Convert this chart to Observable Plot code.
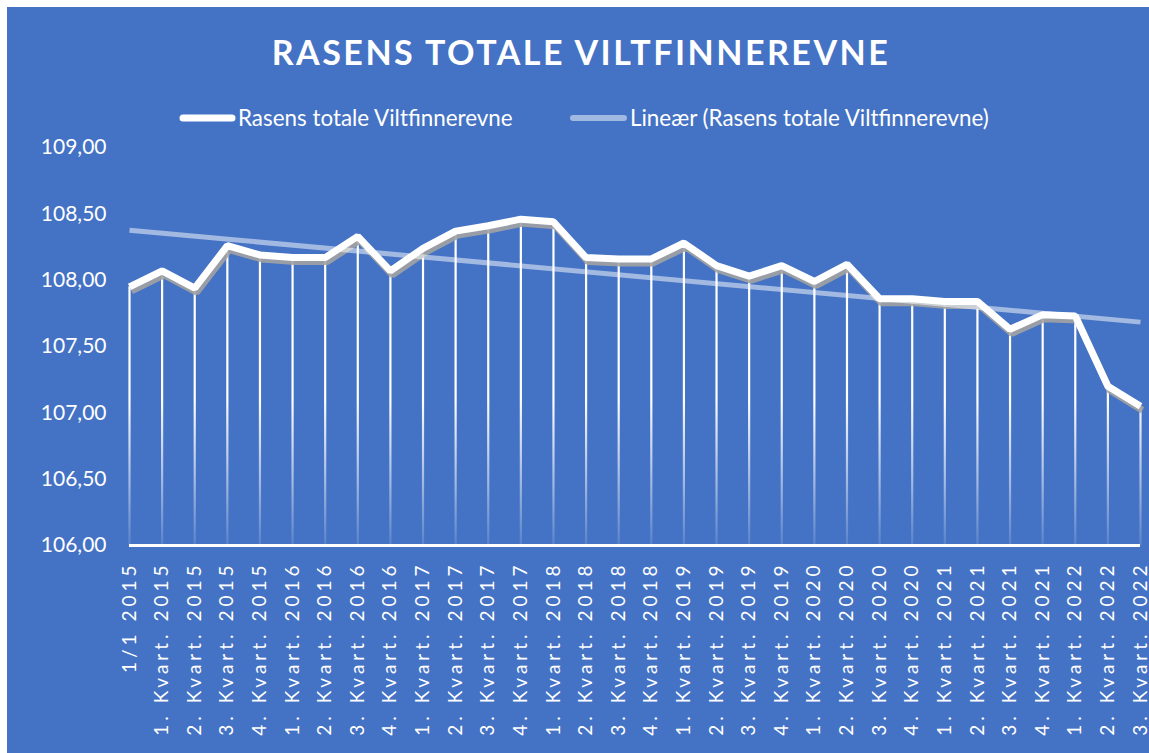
<!DOCTYPE html>
<html>
<head>
<meta charset="utf-8">
<script src="https://cdn.jsdelivr.net/npm/d3@7"></script>
<script src="https://cdn.jsdelivr.net/npm/@observablehq/plot@0.6"></script>
<style>
  html, body { margin: 0; padding: 0; background: #ffffff; }
  #bg { position: absolute; left: 7px; top: 7px; width: 1142px; height: 746px; background: #4472C4; }
  #header { position: absolute; left: 0; top: 0; }
  #chart { position: absolute; left: 0; top: 130px; }
</style>
</head>
<body>
<div id="bg"></div>
<svg id="header" width="1149" height="130"></svg>
<div id="chart"></div>
<script>
const titleText = "RASENS TOTALE VILTFINNEREVNE";
const seriesName = "Rasens totale Viltfinnerevne";
const trendName = "Lineær (Rasens totale Viltfinnerevne)";

const labels = [
  "1/1 2015",
  "1. Kvart. 2015", "2. Kvart. 2015", "3. Kvart. 2015", "4. Kvart. 2015",
  "1. Kvart. 2016", "2. Kvart. 2016", "3. Kvart. 2016", "4. Kvart. 2016",
  "1. Kvart. 2017", "2. Kvart. 2017", "3. Kvart. 2017", "4. Kvart. 2017",
  "1. Kvart. 2018", "2. Kvart. 2018", "3. Kvart. 2018", "4. Kvart. 2018",
  "1. Kvart. 2019", "2. Kvart. 2019", "3. Kvart. 2019", "4. Kvart. 2019",
  "1. Kvart. 2020", "2. Kvart. 2020", "3. Kvart. 2020", "4. Kvart. 2020",
  "1. Kvart. 2021", "2. Kvart. 2021", "3. Kvart. 2021", "4. Kvart. 2021",
  "1. Kvart. 2022", "2. Kvart. 2022", "3. Kvart. 2022"
];

const values = [
  107.95, 108.07, 107.94, 108.26, 108.19,
  108.17, 108.17, 108.33, 108.07,
  108.24, 108.37, 108.41, 108.46,
  108.44, 108.17, 108.16, 108.16,
  108.28, 108.11, 108.03, 108.11,
  107.99, 108.12, 107.86, 107.86,
  107.84, 107.84, 107.63, 107.74,
  107.73, 107.20, 107.05
];

const yTicks = [106, 106.5, 107, 107.5, 108, 108.5, 109];

const data = labels.map((label, i) => ({i, label, v: values[i]}));

// Header: title + legend
const header = d3.select("#header");
header.append("text")
  .attr("x", 581).attr("y", 65)
  .attr("text-anchor", "middle")
  .attr("fill", "white")
  .style("font-family", "Lato, 'Open Sans', sans-serif")
  .style("font-weight", "bold")
  .style("font-size", "34px")
  .style("letter-spacing", "2.5px")
  .text(titleText);

const leg = header.append("g");
leg.append("line").attr("x1", 183).attr("x2", 232).attr("y1", 118).attr("y2", 118)
  .attr("stroke", "white").attr("stroke-width", 7).attr("stroke-linecap", "round");
leg.append("text").attr("x", 238).attr("y", 126).attr("fill", "white")
  .style("font-family", "Lato, sans-serif").style("font-size", "22.4px").text(seriesName);
leg.append("line").attr("x1", 573).attr("x2", 624).attr("y1", 118).attr("y2", 118)
  .attr("stroke", "#A1B8E1").attr("stroke-width", 6).attr("stroke-linecap", "round");
leg.append("text").attr("x", 630).attr("y", 126).attr("fill", "white")
  .style("font-family", "Lato, sans-serif").style("font-size", "22.4px").text(trendName);

const chart = Plot.plot({
  width: 1149,
  height: 623,
  marginLeft: 129,
  marginRight: 9,
  marginTop: 17,
  marginBottom: 208,
  style: {background: "transparent", color: "white", fontFamily: "Lato, sans-serif", overflow: "visible"},
  x: {domain: [0, labels.length - 1]},
  y: {domain: [106, 109]},
  marks: [
    Plot.axisY({ticks: yTicks, tickFormat: d => d.toFixed(2).replace(".", ","), tickSize: 0, tickPadding: 23, fontSize: 21, label: null, fill: "white"}),
    Plot.axisX({ticks: d3.range(labels.length), tickFormat: i => labels[i], tickRotate: -90, tickSize: 0, tickPadding: 16, fontSize: 19, label: null, fill: "white"}),
    Plot.ruleX(data, {x: "i", y1: 106, y2: "v", stroke: "url(#dropGrad)", strokeWidth: 2.2}),
    Plot.ruleY([106], {stroke: "white", strokeWidth: 3}),
    Plot.line(data, {x: "i", y: "v", stroke: "#a3a3a3", strokeWidth: 7, dx: 2, dy: 4, strokeLinejoin: "miter", strokeLinecap: "butt", strokeOpacity: 0.9}),
    Plot.line(data, {x: "i", y: "v", stroke: "white", strokeWidth: 7, strokeLinejoin: "miter", strokeLinecap: "butt"}),
    Plot.linearRegressionY(data, {x: "i", y: "v", stroke: "white", strokeOpacity: 0.5, strokeWidth: 5, ci: 0, strokeLinecap: "butt"})
  ]
});

document.getElementById("chart").appendChild(chart);

const svg = d3.select(chart);
const yScale = chart.scale("y");
const defs = svg.insert("defs", ":first-child");
const grad = defs.append("linearGradient")
  .attr("id", "dropGrad")
  .attr("gradientUnits", "userSpaceOnUse")
  .attr("x1", 0).attr("x2", 0)
  .attr("y1", yScale.apply(107.1))
  .attr("y2", yScale.apply(106));
grad.append("stop").attr("offset", 0).attr("stop-color", "white").attr("stop-opacity", 1);
grad.append("stop").attr("offset", 1).attr("stop-color", "white").attr("stop-opacity", 0.12);

svg.selectAll('g[aria-label="x-axis tick label"] text').style("letter-spacing", "4px");
</script>
</body>
</html>
